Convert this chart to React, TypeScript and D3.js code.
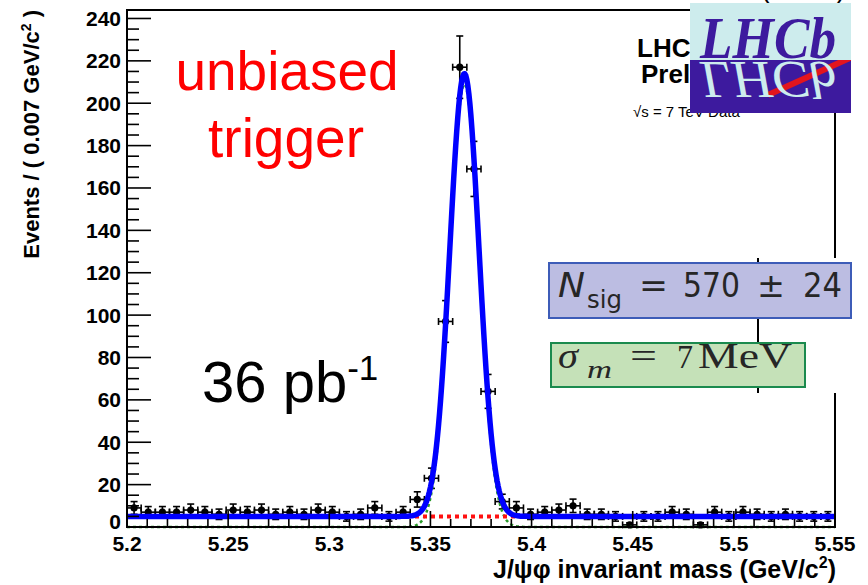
import React from 'react';
import * as d3 from 'd3';

// ---- data ----
const X_DOMAIN = [5.2, 5.55];
const Y_DOMAIN = [0, 244];
const BIN_START = 5.2;
const BIN_WIDTH = 0.007;
const counts = [
  9, 7, 7, 7, 8, 7, 6, 8, 7, 8,
  6, 7, 6, 8, 7, 5, 6, 9, 5, 7,
  13, 23, 97, 217, 169, 64, 12, 9, 6, 7,
  8, 10, 6, 6, 5, 1, 5, 5, 7, 6,
  1, 7, 5, 7, 6, 5, 6, 5, 5, 5,
];
const xTickLabels = [5.2, 5.25, 5.3, 5.35, 5.4, 5.45, 5.5, 5.55];
const yTickLabels = [0, 20, 40, 60, 80, 100, 120, 140, 160, 180, 200, 220, 240];
// fit model parameters (Gaussian signal + flat background)
const FIT_MEAN = 5.3668;
const FIT_SIGMA = 0.0072;
const FIT_PEAK = 209;
const FIT_BKG = 5;

const FONT = "'Liberation Sans', Arial, Helvetica, sans-serif";
const SERIF = "'Liberation Serif', 'Times New Roman', serif";

export default function App() {
  const W = 868, H = 585;
  const left = 127, right = 835, top = 10, bottom = 527;
  const x = d3.scaleLinear().domain(X_DOMAIN).range([left, right]);
  const y = d3.scaleLinear().domain(Y_DOMAIN).range([bottom, top]);

  const bins = counts.map((n, i) => ({ c: BIN_START + BIN_WIDTH * (i + 0.5), n }));

  const sig = (m: number) => FIT_PEAK * Math.exp(-0.5 * ((m - FIT_MEAN) / FIT_SIGMA) ** 2);
  const grid = d3.range(X_DOMAIN[0], X_DOMAIN[1] + 1e-9, 0.0005);
  const totalPath = d3.line<number>().x(m => x(m)).y(m => y(sig(m) + FIT_BKG))(grid) || '';
  const sigPath = d3.line<number>().x(m => x(m)).y(m => y(sig(m)))(grid) || '';
  const bkgPath = d3.line<number>().x(m => x(m)).y(() => y(FIT_BKG))(grid) || '';

  const yMinor = d3.range(0, 241, 5).filter(v => v % 20 !== 0);
  const xMinor = d3.range(0, 36, 1).map(k => 5.2 + k * 0.01).filter((_, k) => k % 5 !== 0);

  const cap = 3.5;

  return (
    <svg width={W} height={H} style={{ position: 'absolute', left: 0, top: 0, background: '#fff' }}
      xmlns="http://www.w3.org/2000/svg">
      <rect x={0} y={0} width={W} height={H} fill="#fff" />

      {/* data points */}
      <g stroke="#000" strokeWidth={1.6} fill="#000">
        {bins.map((b, i) => {
          const e = Math.sqrt(b.n);
          const cx = x(b.c), cy = y(b.n);
          const x0 = x(b.c - BIN_WIDTH / 2), x1 = x(b.c + BIN_WIDTH / 2);
          const yt = y(b.n + e), yb = y(Math.max(0, b.n - e));
          return (
            <g key={i}>
              <line x1={cx} x2={cx} y1={yt} y2={yb} />
              <line x1={cx - cap} x2={cx + cap} y1={yt} y2={yt} />
              <line x1={cx - cap} x2={cx + cap} y1={yb} y2={yb} />
              <line x1={x0} x2={x1} y1={cy} y2={cy} />
              <line x1={x0} x2={x0} y1={cy - cap} y2={cy + cap} />
              <line x1={x1} x2={x1} y1={cy - cap} y2={cy + cap} />
              <circle cx={cx} cy={cy} r={3.6} stroke="none" />
            </g>
          );
        })}
      </g>

      {/* fit components */}
      <path d={sigPath} fill="none" stroke="#2a9a2a" strokeWidth={2.5} strokeDasharray="3,3" />
      <path d={bkgPath} fill="none" stroke="#ff1010" strokeWidth={4} strokeDasharray="4,4" />
      <path d={totalPath} fill="none" stroke="#0000ff" strokeWidth={5.5} strokeLinejoin="round" />

      {/* frame */}
      <rect x={left} y={top} width={right - left} height={bottom - top} fill="none" stroke="#000" strokeWidth={2} />

      {/* ticks */}
      <g stroke="#000" strokeWidth={1.6}>
        {yTickLabels.map(v => <line key={'ym' + v} x1={left} x2={left + 24} y1={y(v)} y2={y(v)} />)}
        {yMinor.map(v => <line key={'yn' + v} x1={left} x2={left + 12} y1={y(v)} y2={y(v)} />)}
        {xTickLabels.map(v => <line key={'xm' + v} x1={x(v)} x2={x(v)} y1={bottom} y2={bottom - 16} />)}
        {xMinor.map(v => <line key={'xn' + v} x1={x(v)} x2={x(v)} y1={bottom} y2={bottom - 8} />)}
      </g>
      <g fontFamily={FONT} fontWeight="bold" fontSize={21} fill="#000">
        {yTickLabels.map(v => (
          <text key={'yl' + v} x={121} y={Math.min(y(v) + 7.5, 529)} textAnchor="end">{v}</text>
        ))}
        {xTickLabels.map(v => (
          <text key={'xl' + v} x={x(v)} y={551} textAnchor="middle">{String(v)}</text>
        ))}
      </g>

      {/* axis titles */}
      <text transform="translate(39,10) rotate(-90)" textAnchor="end" fontFamily={FONT}
        fontWeight="bold" fontSize={22} fill="#000">
        Events / ( 0.007 GeV/c<tspan dy={-8} fontSize={14}>2</tspan><tspan dy={8}> )</tspan>
      </text>
      <text x={836} y={578} textAnchor="end" fontFamily={FONT} fontWeight="bold" fontSize={25} fill="#000">
        J/ψφ invariant mass (GeV/c<tspan dy={-10} fontSize={16}>2</tspan><tspan dy={10}>)</tspan>
      </text>

      {/* annotations */}
      <g fontFamily={FONT} fill="#ff0000" fontSize={55} textAnchor="middle">
        <text x={287} y={90}>unbiased</text>
        <text x={286} y={157}>trigger</text>
      </g>
      <text x={202} y={402} fontFamily={FONT} fontSize={58} fill="#000">
        36 pb<tspan dy={-22} fontSize={35}>-1</tspan>
      </text>

      {/* LHCb preliminary label (mostly covered by the logo, as in the reference) */}
      <g fontFamily={FONT} fill="#000">
        <text x={637} y={57} fontSize={26} fontWeight="bold">LHCb</text>
        <text x={641} y={83} fontSize={26} fontWeight="bold">Preliminary</text>
        <text x={633} y={117} fontSize={15}>√s = 7 TeV Data</text>
      </g>
      <g fontFamily={FONT} fontSize={28} fill="#000">
        <text x={761} y={-2}>(</text>
        <text x={836} y={-2}>)</text>
      </g>

      {/* LHCb logo */}
      <defs>
        <clipPath id="logoBottom"><rect x={690} y={60} width={161} height={53} /></clipPath>
        <clipPath id="logoTop"><rect x={690} y={3} width={161} height={57} /></clipPath>
      </defs>
      <rect x={690} y={3} width={161} height={57} fill="#cdeced" />
      <rect x={690} y={60} width={161} height={53} fill="#3d1a9e" />
      <line x1={768} y1={95} x2={850} y2={58} stroke="#e3151d" strokeWidth={6} clipPath="url(#logoBottom)" />
      <g clipPath="url(#logoBottom)">
        <text transform="translate(700,62) scale(1,-0.9)" fontFamily={SERIF} fontStyle="italic"
          fontSize={58} fill="#cdeced" textLength={136} lengthAdjust="spacingAndGlyphs">LHCb</text>
      </g>
      <g clipPath="url(#logoTop)">
        <text x={700} y={58} fontFamily={SERIF} fontStyle="italic" fontWeight="bold"
          fontSize={60} fill="#3d1a9e" textLength={136} lengthAdjust="spacingAndGlyphs">LHCb</text>
      </g>

      {/* fit parameter box area */}
      <rect x={759} y={258} width={109} height={135} fill="#fff" />
      <line x1={758} x2={758} y1={258} y2={393} stroke="#000" strokeWidth={2} />

      <rect x={549} y={263} width={302} height={55} fill="#bcbde2" stroke="#3d5cb8" strokeWidth={2} />
      <g fontFamily="'DejaVu Sans', sans-serif" fill="#262626">
        <text x={558} y={297} fontSize={34} fontStyle="italic" textLength={27} lengthAdjust="spacingAndGlyphs">N</text>
        <text x={587} y={308} fontSize={24} textLength={35} lengthAdjust="spacingAndGlyphs">sig</text>
        <text x={639} y={297} fontSize={34} textLength={29} lengthAdjust="spacingAndGlyphs">=</text>
        <text x={683} y={297} fontSize={33} textLength={57} lengthAdjust="spacingAndGlyphs">570</text>
        <text x={757} y={297} fontSize={34} textLength={28} lengthAdjust="spacingAndGlyphs">±</text>
        <text x={803} y={297} fontSize={33} textLength={39} lengthAdjust="spacingAndGlyphs">24</text>
      </g>

      <rect x={551} y={343} width={254} height={44} fill="#c5e1b8" stroke="#1b8a4e" strokeWidth={2} />
      <g fontFamily={SERIF} fill="#262626">
        <text x={558} y={368} fontSize={36} fontStyle="italic" textLength={20} lengthAdjust="spacingAndGlyphs">σ</text>
        <text x={587} y={378} fontSize={26} fontStyle="italic" textLength={25} lengthAdjust="spacingAndGlyphs">m</text>
        <text x={630} y={368} fontSize={36} textLength={27} lengthAdjust="spacingAndGlyphs">=</text>
        <text x={677} y={368} fontSize={34} textLength={16} lengthAdjust="spacingAndGlyphs">7</text>
        <text x={698} y={368} fontSize={36} textLength={94} lengthAdjust="spacingAndGlyphs">MeV</text>
      </g>
    </svg>
  );
}
